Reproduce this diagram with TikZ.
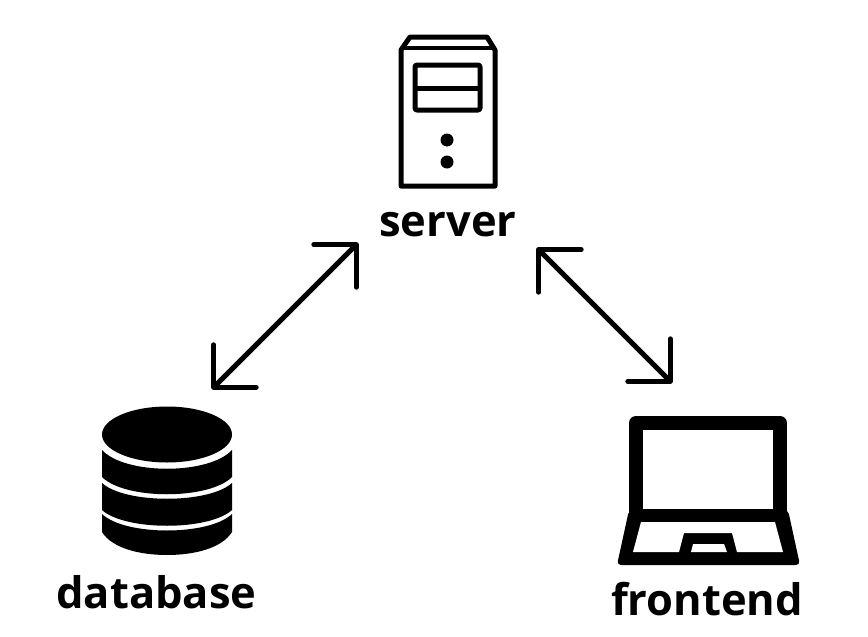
\documentclass[tikz,border=0pt]{standalone}
\usepackage{fontspec}
\setmainfont{Open Sans}
\usetikzlibrary{arrows.meta}

\begin{document}
\begin{tikzpicture}[x=1pt,y=-1pt]
\tikzstyle{label}=[anchor=base,inner sep=0pt,font=\fontsize{43.5}{44}\selectfont\bfseries];
\tikzstyle{outline}=[line width=5pt,line join=round];
\tikzstyle{link}=[line width=5pt,<->,>={Straight Barb[length=30pt,width=60pt,round=false]}];
\useasboundingbox (0,0) rectangle (868,637);
\node (server) [label] at (448,236) {server};
\node (database) [label] at (156.5,608) {database};
\node (frontend) [label] at (707,615) {frontend};
\coordinate (S1) at (358,243);
\coordinate (D1) at (212,389);
\coordinate (S2) at (537,248);
\coordinate (F1) at (672,383);
\draw [link] (S1) -- (D1);
\draw [link] (S2) -- (F1);
% server
\draw [outline] (401,50) -- (410,37) -- (487,37) -- (495,50) -- (495,186) -- (401,186) -- cycle;
\draw [line width=4pt] (401,48) -- (495,48);
\draw [outline,rounded corners=2pt] (415,65) rectangle (480,110);
\draw [outline] (415,88) -- (480,88);
\fill (447,140) circle (6.5);
\fill (447,162) circle (6.5);
% database
\fill (167,434.5) ellipse [x radius=65,y radius=28];
\fill (102,450) .. controls (125,475) and (209,475) .. (232,450) -- (232,477) .. controls (209,500) and (125,500) .. (102,477) -- cycle;
\fill (102,483) .. controls (125,504) and (209,504) .. (232,483) -- (232,510) .. controls (209,531) and (125,531) .. (102,510) -- cycle;
\fill (102,514) .. controls (125,536) and (209,536) .. (232,514) -- (232,532) .. controls (222,548) and (195,555) .. (167,555) .. controls (139,555) and (112,548) .. (102,532) -- cycle;
% frontend
\draw [line width=14pt,line join=round] (636,423) rectangle (780,516);
\fill [rounded corners=4pt] (629,510) -- (617,565) -- (800,565) -- (788,510) -- cycle;
\fill [white] (641,522) -- (775,522) -- (783,552) -- (737,552) -- (732,533) -- (684,533) -- (679,552) -- (633,552) -- cycle;
\fill [white] (691,552) -- (693,544) -- (724,544) -- (727,552) -- cycle;
\end{tikzpicture}
\end{document}
